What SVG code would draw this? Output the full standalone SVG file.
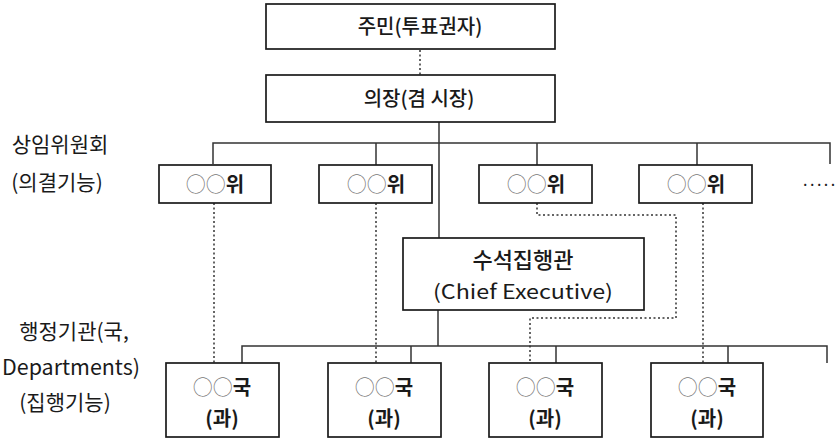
<svg xmlns="http://www.w3.org/2000/svg" width="839" height="439" viewBox="0 0 839 439">
<style>
.box{fill:#fff;stroke:#1a1a1a;stroke-width:1.7}
.ln{fill:none;stroke:#333;stroke-width:1.5}
.dt{fill:none;stroke:#333;stroke-width:1.5;stroke-dasharray:2 2.5}
text{font-family:"Noto Sans CJK KR","Noto Sans",sans-serif;fill:#1a1a1a}
.t{font-size:20px;font-weight:500;text-anchor:middle}
.lab{font-size:21px;text-anchor:middle}
.c{fill:#777;font-weight:300}
.b{font-weight:700}
</style>
<g id="connectors">
<line class="dt" x1="420" y1="50" x2="420" y2="75"/>
<line class="ln" x1="439" y1="122" x2="439" y2="238"/>
<polyline class="ln" points="213,164 213,143 830,143 830,164"/>
<line class="ln" x1="376" y1="143" x2="376" y2="165"/>
<line class="ln" x1="537" y1="143" x2="537" y2="165"/>
<line class="ln" x1="697" y1="143" x2="697" y2="165"/>
<line class="ln" x1="438" y1="310" x2="438" y2="346"/>
<polyline class="ln" points="242,363 242,346 827,346 827,363"/>
<line class="ln" x1="411" y1="346" x2="411" y2="363"/>
<line class="ln" x1="556" y1="346" x2="556" y2="363"/>
<line class="ln" x1="728" y1="346" x2="728" y2="363"/>
<line class="dt" x1="214" y1="203" x2="214" y2="363"/>
<line class="dt" x1="376" y1="203" x2="376" y2="363"/>
<polyline class="dt" points="537,203 537,215 676,215 676,318 530,318 530,363"/>
<line class="dt" x1="703" y1="203" x2="703" y2="363"/>
</g>
<g id="residents"><rect class="box" x="266" y="4" width="289" height="45"/><text class="t" x="420" y="34">주민(투표권자)</text></g>
<g id="mayor"><rect class="box" x="266" y="75" width="289" height="47"/><text class="t" x="419" y="106">의장(겸 시장)</text></g>
<g id="committee1"><rect class="box" x="159" y="165" width="112" height="38"/><text class="t" x="215" y="192"><tspan class="c">○○</tspan><tspan class="b">위</tspan></text></g>
<g id="committee2"><rect class="box" x="319" y="165" width="113" height="38"/><text class="t" x="376" y="192"><tspan class="c">○○</tspan><tspan class="b">위</tspan></text></g>
<g id="committee3"><rect class="box" x="479" y="165" width="113" height="38"/><text class="t" x="536" y="192"><tspan class="c">○○</tspan><tspan class="b">위</tspan></text></g>
<g id="committee4"><rect class="box" x="639" y="165" width="113" height="38"/><text class="t" x="696" y="192"><tspan class="c">○○</tspan><tspan class="b">위</tspan></text></g>
<g id="more"><text x="803" y="186" style="font-size:16px;letter-spacing:2.5px" fill="#333">.....</text></g>
<g id="ce"><rect class="box" x="403" y="238" width="241" height="72"/><text class="t" x="523" y="268" style="font-size:22px">수석집행관</text><text class="t" x="523" y="299" style="font-weight:400" textLength="180" lengthAdjust="spacingAndGlyphs">(Chief  Executive)</text></g>
<g id="dept1"><rect class="box" x="166" y="363" width="113" height="74"/><text class="t" x="222" y="395"><tspan class="c">○○</tspan><tspan class="b">국</tspan></text><text class="t b" x="222" y="426">(과)</text></g>
<g id="dept2"><rect class="box" x="328" y="363" width="113" height="74"/><text class="t" x="384" y="395"><tspan class="c">○○</tspan><tspan class="b">국</tspan></text><text class="t b" x="384" y="426">(과)</text></g>
<g id="dept3"><rect class="box" x="489" y="363" width="113" height="74"/><text class="t" x="545" y="395"><tspan class="c">○○</tspan><tspan class="b">국</tspan></text><text class="t b" x="545" y="426">(과)</text></g>
<g id="dept4"><rect class="box" x="651" y="363" width="112" height="74"/><text class="t" x="707" y="395"><tspan class="c">○○</tspan><tspan class="b">국</tspan></text><text class="t b" x="707" y="426">(과)</text></g>
<g id="labels">
<text class="lab" x="60" y="152">상임위원회</text>
<text class="lab" x="57" y="190">(의결기능)</text>
<text class="lab" x="74" y="339">행정기관(국,</text>
<text class="lab" x="71" y="375" textLength="138" lengthAdjust="spacingAndGlyphs">Departments)</text>
<text class="lab" x="65" y="410">(집행기능)</text>
</g>
</svg>
